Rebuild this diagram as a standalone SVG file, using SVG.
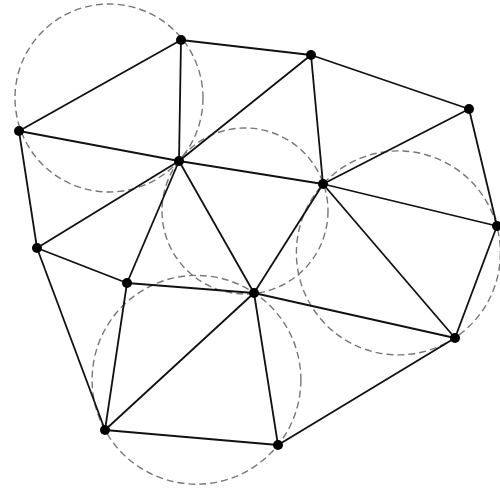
<svg xmlns="http://www.w3.org/2000/svg" width="500" height="490" viewBox="0 0 500 490">
<style>
.c{fill:none;stroke:#777;stroke-width:1.4;stroke-dasharray:7 4}
.e{stroke:#111;stroke-width:1.8;fill:none}
.n{fill:#000}
</style>
<rect width="500" height="490" fill="#fff"/>
<g id="circles">
<circle class="c" cx="109" cy="98" r="94"/>
<circle class="c" cx="245" cy="211" r="83"/>
<circle class="c" cx="398.4" cy="252.9" r="102"/>
<circle class="c" cx="196.5" cy="379.8" r="104.4"/>
</g>
<g id="connectors" class="e">
<line x1="181" y1="40" x2="311" y2="55"/>
<line x1="311" y1="55" x2="469" y2="109"/>
<line x1="19" y1="131" x2="181" y2="40"/>
<line x1="181" y1="40" x2="179" y2="161"/>
<line x1="179" y1="161" x2="311" y2="55"/>
<line x1="311" y1="55" x2="323" y2="184"/>
<line x1="469" y1="109" x2="323" y2="184"/>
<line x1="469" y1="109" x2="497" y2="226"/>
<line x1="19" y1="131" x2="179" y2="161"/>
<line x1="179" y1="161" x2="323" y2="184"/>
<line x1="323" y1="184" x2="497" y2="226"/>
<line x1="19" y1="131" x2="37" y2="248"/>
<line x1="37" y1="248" x2="179" y2="161"/>
<line x1="179" y1="161" x2="127" y2="283"/>
<line x1="179" y1="161" x2="254" y2="293"/>
<line x1="323" y1="184" x2="254" y2="293"/>
<line x1="323" y1="184" x2="455" y2="338"/>
<line x1="497" y1="226" x2="455" y2="338"/>
<line x1="37" y1="248" x2="127" y2="283"/>
<line x1="127" y1="283" x2="254" y2="293"/>
<line x1="254" y1="293" x2="455" y2="338"/>
<line x1="37" y1="248" x2="105" y2="430"/>
<line x1="127" y1="283" x2="105" y2="430"/>
<line x1="105" y1="430" x2="254" y2="293"/>
<line x1="254" y1="293" x2="278" y2="445"/>
<line x1="455" y1="338" x2="278" y2="445"/>
<line x1="105" y1="430" x2="278" y2="445"/>
</g>
<g id="A"><circle class="n" cx="181" cy="40" r="5"/></g>
<g id="B"><circle class="n" cx="311" cy="55" r="5"/></g>
<g id="C"><circle class="n" cx="469" cy="109" r="5"/></g>
<g id="D"><circle class="n" cx="19" cy="131" r="5"/></g>
<g id="E"><circle class="n" cx="179" cy="161" r="5"/></g>
<g id="F"><circle class="n" cx="323" cy="184" r="5"/></g>
<g id="G"><circle class="n" cx="497" cy="226" r="5"/></g>
<g id="H"><circle class="n" cx="37" cy="248" r="5"/></g>
<g id="I"><circle class="n" cx="127" cy="283" r="5"/></g>
<g id="J"><circle class="n" cx="254" cy="293" r="5"/></g>
<g id="K"><circle class="n" cx="455" cy="338" r="5"/></g>
<g id="L"><circle class="n" cx="105" cy="430" r="5"/></g>
<g id="M"><circle class="n" cx="278" cy="445" r="5"/></g>
</svg>
